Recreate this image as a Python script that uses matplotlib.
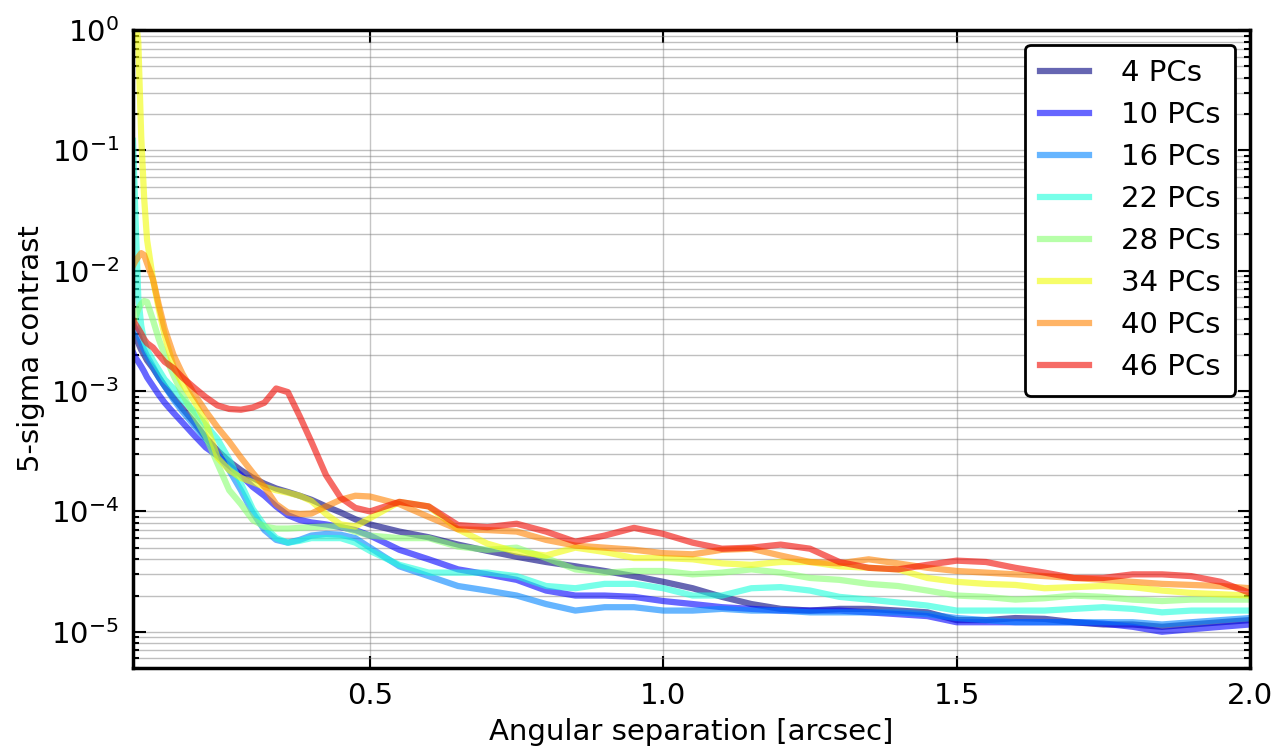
import numpy as np
import matplotlib
matplotlib.use("Agg")
import matplotlib.pyplot as plt

# separation grid [arcsec]
sep = [0.096, 0.1, 0.105, 0.11, 0.115, 0.12, 0.13, 0.14, 0.15, 0.165, 0.18, 0.2,
       0.22, 0.24, 0.26, 0.28, 0.3, 0.32, 0.34, 0.36, 0.38, 0.4, 0.425, 0.45, 0.475,
       0.5, 0.55, 0.6, 0.65, 0.7, 0.75, 0.8, 0.85, 0.9, 0.95, 1.0, 1.05, 1.1, 1.15,
       1.2, 1.25, 1.3, 1.35, 1.4, 1.45, 1.5, 1.55, 1.6, 1.65, 1.7, 1.75, 1.8, 1.85,
       1.9, 1.95, 2.0]

labels = ["4 PCs", "10 PCs", "16 PCs", "22 PCs", "28 PCs", "34 PCs", "40 PCs", "46 PCs"]

pc4 = [3.0e-3, 2.8e-3, 2.5e-3, 2.2e-3, 2.0e-3, 1.8e-3, 1.55e-3, 1.3e-3, 1.1e-3, 8.8e-4,
       7.2e-4, 5.5e-4, 4.1e-4, 3.2e-4, 2.6e-4, 2.2e-4, 1.9e-4, 1.7e-4, 1.55e-4, 1.45e-4,
       1.35e-4, 1.25e-4, 1.1e-4, 9.8e-5, 8.6e-5, 7.8e-5, 6.8e-5, 6.1e-5, 5.3e-5, 4.7e-5,
       4.2e-5, 3.8e-5, 3.5e-5, 3.2e-5, 2.9e-5, 2.6e-5, 2.3e-5, 1.95e-5, 1.7e-5, 1.55e-5,
       1.5e-5, 1.55e-5, 1.55e-5, 1.5e-5, 1.45e-5, 1.25e-5, 1.25e-5, 1.3e-5, 1.28e-5, 1.2e-5,
       1.15e-5, 1.15e-5, 1.1e-5, 1.15e-5, 1.2e-5, 1.25e-5]

pc10 = [2.1e-3, 1.9e-3, 1.75e-3, 1.6e-3, 1.45e-3, 1.3e-3, 1.1e-3, 9.3e-4, 8.0e-4, 6.6e-4,
        5.5e-4, 4.3e-4, 3.4e-4, 2.9e-4, 2.4e-4, 2.0e-4, 1.6e-4, 1.35e-4, 1.1e-4, 9.3e-5,
        8.5e-5, 8.1e-5, 7.8e-5, 7.4e-5, 7.0e-5, 6.3e-5, 4.8e-5, 4.0e-5, 3.3e-5, 3.0e-5,
        2.7e-5, 2.2e-5, 2.0e-5, 2.0e-5, 1.95e-5, 1.8e-5, 1.7e-5, 1.6e-5, 1.55e-5, 1.5e-5,
        1.5e-5, 1.5e-5, 1.45e-5, 1.4e-5, 1.35e-5, 1.2e-5, 1.2e-5, 1.2e-5, 1.2e-5, 1.2e-5,
        1.17e-5, 1.1e-5, 1.0e-5, 1.05e-5, 1.1e-5, 1.15e-5]

pc16 = [3.6e-3, 3.3e-3, 2.9e-3, 2.5e-3, 2.2e-3, 1.95e-3, 1.6e-3, 1.3e-3, 1.1e-3, 8.5e-4,
        6.8e-4, 5.2e-4, 4.0e-4, 3.0e-4, 2.2e-4, 1.5e-4, 9.8e-5, 7.0e-5, 5.8e-5, 5.5e-5,
        5.8e-5, 6.3e-5, 6.5e-5, 6.4e-5, 6.0e-5, 5.0e-5, 3.5e-5, 2.9e-5, 2.4e-5, 2.2e-5,
        2.0e-5, 1.7e-5, 1.5e-5, 1.6e-5, 1.6e-5, 1.5e-5, 1.5e-5, 1.55e-5, 1.5e-5, 1.5e-5,
        1.45e-5, 1.45e-5, 1.45e-5, 1.45e-5, 1.4e-5, 1.3e-5, 1.25e-5, 1.2e-5, 1.2e-5, 1.2e-5,
        1.2e-5, 1.2e-5, 1.15e-5, 1.2e-5, 1.25e-5, 1.3e-5]

pc22 = [1.2e-1, 3.0e-2, 6.0e-3, 3.5e-3, 2.6e-3, 2.2e-3, 1.8e-3, 1.5e-3, 1.25e-3, 1.05e-3,
        8.5e-4, 6.8e-4, 5.2e-4, 4.0e-4, 2.7e-4, 1.7e-4, 1.05e-4, 7.6e-5, 6.0e-5, 5.5e-5,
        5.7e-5, 6.0e-5, 6.0e-5, 6.0e-5, 5.5e-5, 4.7e-5, 3.6e-5, 3.1e-5, 3.1e-5, 3.1e-5,
        2.9e-5, 2.4e-5, 2.3e-5, 2.5e-5, 2.5e-5, 2.3e-5, 2.0e-5, 2.0e-5, 2.3e-5, 2.35e-5,
        2.2e-5, 1.95e-5, 1.85e-5, 1.75e-5, 1.65e-5, 1.5e-5, 1.5e-5, 1.5e-5, 1.5e-5, 1.55e-5,
        1.6e-5, 1.55e-5, 1.45e-5, 1.5e-5, 1.5e-5, 1.5e-5]

pc28 = [3.5e-3, 4.1e-3, 4.8e-3, 5.3e-3, 5.6e-3, 5.5e-3, 3.9e-3, 2.7e-3, 2.0e-3, 1.35e-3,
        9.5e-4, 6.3e-4, 4.2e-4, 2.5e-4, 1.5e-4, 1.15e-4, 8.5e-5, 7.5e-5, 7.2e-5, 7.2e-5,
        7.3e-5, 7.4e-5, 7.5e-5, 7.5e-5, 6.8e-5, 6.3e-5, 6.0e-5, 6.0e-5, 5.1e-5, 4.8e-5,
        5.0e-5, 4.1e-5, 3.3e-5, 3.1e-5, 3.2e-5, 3.2e-5, 3.0e-5, 3.1e-5, 3.3e-5, 3.1e-5,
        2.8e-5, 2.7e-5, 2.5e-5, 2.4e-5, 2.2e-5, 2.0e-5, 1.95e-5, 1.85e-5, 1.9e-5, 2.0e-5,
        1.95e-5, 1.85e-5, 1.8e-5, 1.85e-5, 1.85e-5, 1.85e-5]

pc34 = [2.0, 1.3, 0.8, 0.13, 0.04, 1.8e-2, 8.5e-3, 4.8e-3, 2.9e-3, 1.6e-3,
        1.15e-3, 8.3e-4, 5.5e-4, 2.8e-4, 2.2e-4, 1.9e-4, 1.75e-4, 1.6e-4, 1.5e-4, 1.43e-4,
        1.35e-4, 1.22e-4, 9.5e-5, 7.8e-5, 7.5e-5, 8.8e-5, 1.2e-4, 1.1e-4, 7.1e-5, 5.4e-5,
        4.6e-5, 4.3e-5, 5.0e-5, 4.6e-5, 4.1e-5, 4.1e-5, 4.0e-5, 3.7e-5, 3.6e-5, 3.8e-5,
        3.8e-5, 3.5e-5, 3.4e-5, 3.3e-5, 2.8e-5, 2.6e-5, 2.5e-5, 2.45e-5, 2.3e-5, 2.35e-5,
        2.4e-5, 2.35e-5, 2.2e-5, 2.1e-5, 2.05e-5, 2.0e-5]

pc40 = [1.1e-2, 1.2e-2, 1.3e-2, 1.4e-2, 1.35e-2, 1.15e-2, 8.5e-3, 5.2e-3, 3.3e-3, 2.0e-3,
        1.4e-3, 9.5e-4, 6.8e-4, 5.0e-4, 3.8e-4, 2.8e-4, 2.1e-4, 1.6e-4, 1.15e-4, 9.8e-5,
        9.5e-5, 9.6e-5, 1.1e-4, 1.25e-4, 1.35e-4, 1.33e-4, 1.15e-4, 9.0e-5, 7.1e-5, 7.0e-5,
        6.8e-5, 5.8e-5, 5.2e-5, 5.0e-5, 4.8e-5, 4.5e-5, 4.4e-5, 4.8e-5, 4.9e-5, 4.3e-5,
        3.8e-5, 3.7e-5, 4.0e-5, 3.7e-5, 3.4e-5, 3.2e-5, 3.1e-5, 3.0e-5, 2.9e-5, 2.8e-5,
        2.7e-5, 2.6e-5, 2.5e-5, 2.45e-5, 2.4e-5, 2.3e-5]

pc46 = [3.9e-3, 3.6e-3, 3.3e-3, 3.0e-3, 2.7e-3, 2.5e-3, 2.3e-3, 2.0e-3, 1.75e-3, 1.55e-3,
        1.3e-3, 1.07e-3, 8.9e-4, 7.6e-4, 7.1e-4, 7.0e-4, 7.3e-4, 8.0e-4, 1.05e-3, 9.8e-4,
        6.2e-4, 3.8e-4, 2.0e-4, 1.3e-4, 1.07e-4, 1.0e-4, 1.2e-4, 1.1e-4, 7.7e-5, 7.4e-5,
        7.9e-5, 6.8e-5, 5.6e-5, 6.3e-5, 7.3e-5, 6.5e-5, 5.5e-5, 4.9e-5, 5.0e-5, 5.3e-5,
        4.9e-5, 3.8e-5, 3.4e-5, 3.3e-5, 3.6e-5, 3.9e-5, 3.8e-5, 3.4e-5, 3.1e-5, 2.8e-5,
        2.8e-5, 3.0e-5, 3.0e-5, 2.9e-5, 2.6e-5, 2.1e-5]

curves = [pc4, pc10, pc16, pc22, pc28, pc34, pc40, pc46]

plt.rcParams['font.family'] = ['DejaVu Sans']
plt.rcParams['font.size'] = 21
plt.rcParams['mathtext.default'] = 'regular'
plt.rcParams['axes.unicode_minus'] = False

fig = plt.figure(figsize=(12.75, 7.48), dpi=100)
ax = fig.add_axes([133 / 1275, 1 - 668 / 748, (1250 - 133) / 1275, (668 - 30) / 748])

colors = plt.cm.jet(np.linspace(0, 0.9, len(curves)))
for vals, lab, c in zip(curves, labels, colors):
    ax.plot(sep, vals, color=c, alpha=0.6, lw=4.5, label=lab)

ax.set_yscale('log')
ax.set_xlim(0.096, 2.0)
ax.set_ylim(5e-6, 1.0)
ax.set_xticks([0.5, 1.0, 1.5, 2.0])
ax.set_xticklabels(['0.5', '1.0', '1.5', '2.0'])

ax.grid(True, axis='x', which='major', color='gray', alpha=0.45, lw=1)
ax.grid(True, axis='y', which='both', color='gray', alpha=0.5, lw=1)

ax.tick_params(which='both', direction='in', top=True, right=True, width=1.5)
ax.tick_params(which='major', length=9, pad=10)
ax.tick_params(which='minor', length=4.5)
ax.tick_params(axis='x', which='minor', bottom=False, top=False)
for sp in ax.spines.values():
    sp.set_linewidth(2.5)

ax.set_xlabel('Angular separation [arcsec]', labelpad=6)
ax.set_ylabel('5-sigma contrast', labelpad=4)

leg = ax.legend(loc='upper right', fancybox=True, framealpha=1, handlelength=1.7,
                handletextpad=1.1, labelspacing=0.48, borderpad=0.5)
leg.get_frame().set_edgecolor('black')
leg.get_frame().set_linewidth(2)

fig.savefig('out.png', dpi=100)
